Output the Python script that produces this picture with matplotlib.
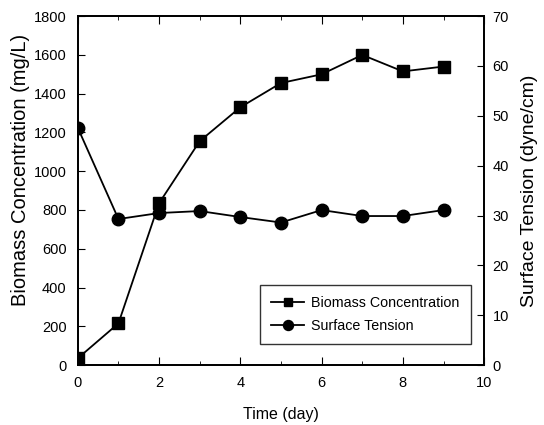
import matplotlib
matplotlib.use("Agg")
import matplotlib.pyplot as plt
from matplotlib.ticker import MultipleLocator

plt.rcParams['font.family'] = ['Liberation Sans', 'DejaVu Sans']

days = [0, 1, 2, 3, 4, 5, 6, 7, 8, 9]
biomass = [35, 215, 835, 1155, 1330, 1455, 1500, 1600, 1515, 1540]
tension = [47.6, 29.3, 30.5, 30.9, 29.7, 28.6, 31.1, 29.9, 29.9, 31.1]

fig = plt.figure(figsize=(5.44, 4.25), dpi=100)
ax = fig.add_axes([0.143, 0.141, 0.747, 0.821])
ax2 = ax.twinx()

l1, = ax.plot(days, biomass, color='black', marker='s', markersize=8, linewidth=1.3,
              label='Biomass Concentration')
l2, = ax2.plot(days, tension, color='black', marker='o', markersize=9, linewidth=1.3,
               label='Surface Tension')

ax.set_xlim(0, 10)
ax.set_ylim(0, 1800)
ax2.set_ylim(0, 70)
ax.xaxis.set_major_locator(MultipleLocator(2))
ax.xaxis.set_minor_locator(MultipleLocator(1))
ax.yaxis.set_major_locator(MultipleLocator(200))
ax2.yaxis.set_major_locator(MultipleLocator(10))

ax.tick_params(axis='x', which='both', direction='in', top=True, labelsize=10.5, pad=8)
ax.tick_params(axis='x', which='major', length=6)
ax.tick_params(axis='x', which='minor', length=3)
ax.tick_params(axis='y', direction='in', length=5, labelsize=10.5, pad=8)
ax2.tick_params(axis='y', direction='in', length=5, labelsize=10.5, pad=6)

ax.set_xlabel('Time (day)', fontsize=11.5, labelpad=12)
ax.set_ylabel('Biomass Concentration (mg/L)', fontsize=14.5)
ax.yaxis.set_label_coords(-0.118, 0.56)
ax2.set_ylabel('Surface Tension (dyne/cm)', fontsize=14, labelpad=9)

leg = ax2.legend(handles=[l1, l2], loc='lower right', bbox_to_anchor=(0.968, 0.06),
                 fontsize=10.3, frameon=True, fancybox=False, edgecolor='black',
                 handlelength=2.3, borderpad=0.8, labelspacing=0.6, handletextpad=0.5,
                 markerscale=0.8, borderaxespad=0)
leg.get_frame().set_linewidth(1.0)

for a in (ax, ax2):
    for s in a.spines.values():
        s.set_linewidth(1.3)

fig.savefig('out.png', dpi=100)
